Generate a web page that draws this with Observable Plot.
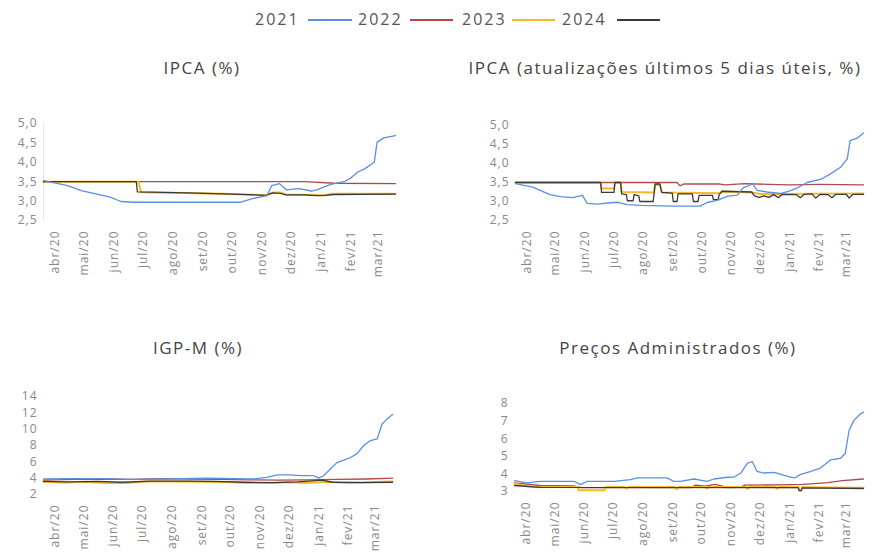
<!DOCTYPE html>
<html><head><meta charset="utf-8">
<script src="https://cdn.jsdelivr.net/npm/d3@7"></script>
<script src="https://cdn.jsdelivr.net/npm/@observablehq/plot@0.6"></script>
<style>
body{margin:0;background:#fff;font-family:"Open Sans",sans-serif;}
#root{position:relative;width:877px;height:556px;overflow:hidden;background:#fff;}
.lg-t{position:absolute;top:8px;font-size:16px;letter-spacing:2px;color:#555;line-height:22px;}
.lg-l{position:absolute;top:19px;height:0;border-top:2px solid;}
.title{position:absolute;text-align:center;font-size:17px;letter-spacing:1.5px;color:#444;line-height:24px;white-space:nowrap;}
.panel{position:absolute;}
</style></head>
<body><div id="root"></div>
<script>
// ---- series / legend ----
const seriesNames = ["2021","2022","2023","2024"];
const seriesColors = ["#5b8fe3","#b04a4a","#f6b927","#3a3a3a"];
// ---- x ticks ----
const tickDates = ["2020-04-01","2020-05-01","2020-06-01","2020-07-01","2020-08-01","2020-09-01","2020-10-01","2020-11-01","2020-12-01","2021-01-01","2021-02-01","2021-03-01"];
const tickLabels = ["abr/20","mai/20","jun/20","jul/20","ago/20","set/20","out/20","nov/20","dez/20","jan/21","fev/21","mar/21"];
const xDomain = ["2020-03-20","2021-03-19"];
// ---- panel titles ----
const titles = ["IPCA (%)","IPCA (atualizações últimos 5 dias úteis, %)","IGP-M (%)","Preços Administrados (%)"];
// ---- y ticks ----
const yTicksIpca = [2.5,3.0,3.5,4.0,4.5,5.0];
const yTicksIgpm = [2,4,6,8,10,12,14];
const yTicksAdm = [3,4,5,6,7,8];

// ---- IPCA (%) ----
const ipca2021 = [["2020-03-20",3.53],["2020-04-14",3.40],["2020-04-28",3.27],["2020-05-12",3.19],["2020-05-28",3.10],["2020-06-08",2.99],["2020-06-20",2.97],["2020-10-09",2.97],["2020-10-23",3.07],["2020-11-06",3.14],["2020-11-11",3.40],["2020-11-19",3.45],["2020-11-26",3.29],["2020-12-09",3.32],["2020-12-22",3.26],["2020-12-29",3.30],["2021-01-11",3.43],["2021-01-26",3.51],["2021-02-01",3.60],["2021-02-08",3.75],["2021-02-15",3.83],["2021-02-25",4.00],["2021-02-28",4.52],["2021-03-07",4.63],["2021-03-19",4.69]];
const ipca2022 = [["2020-03-20",3.50],["2020-12-15",3.50],["2021-01-15",3.46],["2021-03-19",3.45]];
const ipca2023 = [["2020-03-20",3.50],["2020-06-26",3.50],["2020-06-29",3.23],["2020-08-15",3.21],["2020-10-01",3.18],["2020-11-05",3.15],["2020-11-12",3.22],["2020-11-20",3.22],["2020-11-25",3.17],["2020-12-20",3.16],["2021-01-05",3.15],["2021-01-12",3.19],["2021-03-19",3.19]];
const ipca2024 = [["2020-03-20",3.50],["2020-06-24",3.50],["2020-06-25",3.24],["2020-08-15",3.21],["2020-10-01",3.18],["2020-11-05",3.15],["2020-11-12",3.21],["2020-11-20",3.20],["2020-11-26",3.16],["2020-12-15",3.16],["2020-12-28",3.14],["2021-01-05",3.15],["2021-01-14",3.17],["2021-03-19",3.18]];

// ---- IPCA (últimos 5 dias úteis, %) ----
const ipca5d2021 = [["2020-03-20",3.47],["2020-04-07",3.38],["2020-04-25",3.18],["2020-05-06",3.13],["2020-05-19",3.10],["2020-05-29",3.16],["2020-06-03",2.95],["2020-06-14",2.93],["2020-06-24",2.96],["2020-07-05",2.98],["2020-07-15",2.92],["2020-07-29",2.90],["2020-09-01",2.88],["2020-09-29",2.88],["2020-10-07",2.98],["2020-10-17",3.03],["2020-10-28",3.14],["2020-11-07",3.17],["2020-11-13",3.36],["2020-11-23",3.46],["2020-11-28",3.29],["2020-12-08",3.25],["2020-12-22",3.21],["2021-01-01",3.28],["2021-01-09",3.36],["2021-01-19",3.50],["2021-02-02",3.58],["2021-02-12",3.72],["2021-02-23",3.90],["2021-03-02",4.12],["2021-03-05",4.60],["2021-03-12",4.66],["2021-03-19",4.80]];
const ipca5d2022 = [["2020-03-20",3.50],["2020-09-05",3.50],["2020-09-08",3.41],["2020-09-12",3.46],["2020-10-20",3.46],["2020-10-25",3.44],["2020-11-15",3.47],["2020-12-10",3.45],["2021-01-01",3.44],["2021-02-01",3.45],["2021-03-19",3.44]];
const ipca5d2023 = [["2020-03-20",3.50],["2020-06-17",3.50],["2020-06-18",3.34],["2020-07-01",3.34],["2020-07-02",3.50],["2020-07-08",3.50],["2020-07-09",3.25],["2020-08-12",3.24],["2020-08-13",3.44],["2020-08-18",3.44],["2020-08-20",3.24],["2020-10-20",3.22],["2020-10-22",3.26],["2020-11-22",3.24],["2020-12-01",3.20],["2021-03-19",3.21]];
const ipca5d2024 = [["2020-03-20",3.50],["2020-06-17",3.50],["2020-06-18",3.24],["2020-07-01",3.24],["2020-07-02",3.50],["2020-07-08",3.50],["2020-07-09",3.20],["2020-07-14",3.18],["2020-07-15",3.02],["2020-07-21",3.02],["2020-07-22",3.18],["2020-07-27",3.15],["2020-07-28",3.00],["2020-08-11",3.00],["2020-08-12",3.22],["2020-08-13",3.46],["2020-08-18",3.46],["2020-08-20",3.24],["2020-08-31",3.22],["2020-09-01",3.00],["2020-09-05",3.00],["2020-09-06",3.20],["2020-09-21",3.20],["2020-09-22",3.00],["2020-09-27",3.00],["2020-09-28",3.16],["2020-10-12",3.16],["2020-10-13",3.05],["2020-10-18",3.05],["2020-10-19",3.18],["2020-10-22",3.27],["2020-11-22",3.25],["2020-11-25",3.15],["2020-11-30",3.11],["2020-12-05",3.15],["2020-12-10",3.11],["2020-12-15",3.18],["2020-12-20",3.10],["2020-12-24",3.19],["2021-01-08",3.18],["2021-01-12",3.10],["2021-01-16",3.19],["2021-01-24",3.20],["2021-01-28",3.09],["2021-02-02",3.19],["2021-02-10",3.18],["2021-02-14",3.10],["2021-02-18",3.19],["2021-03-01",3.19],["2021-03-04",3.09],["2021-03-08",3.19],["2021-03-19",3.19]];

// ---- IGP-M (%) ----
const igpm2021 = [["2020-03-20",3.90],["2020-04-20",3.95],["2020-05-18",3.95],["2020-06-20",3.85],["2020-07-27",3.90],["2020-09-07",4.00],["2020-10-04",3.95],["2020-10-25",3.90],["2020-11-08",4.10],["2020-11-19",4.40],["2020-12-02",4.40],["2020-12-13",4.30],["2020-12-27",4.30],["2021-01-01",4.00],["2021-01-06",4.30],["2021-01-13",5.10],["2021-01-20",5.90],["2021-01-27",6.20],["2021-02-03",6.50],["2021-02-10",7.00],["2021-02-17",8.00],["2021-02-24",8.60],["2021-03-03",8.80],["2021-03-08",10.60],["2021-03-13",11.20],["2021-03-19",11.80]];
const igpm2022 = [["2020-03-20",3.75],["2020-04-20",3.85],["2020-05-20",3.90],["2020-06-20",3.85],["2020-07-20",3.95],["2020-08-20",3.90],["2020-09-20",3.85],["2020-10-20",3.80],["2020-11-20",3.75],["2020-12-20",3.80],["2021-01-20",3.85],["2021-02-20",3.90],["2021-03-19",4.00]];
const igpm2023 = [["2020-03-20",3.55],["2020-04-10",3.45],["2020-05-01",3.55],["2020-05-25",3.40],["2020-06-15",3.40],["2020-07-05",3.60],["2020-08-01",3.60],["2020-09-01",3.55],["2020-10-01",3.50],["2020-10-20",3.40],["2020-11-10",3.40],["2020-12-01",3.50],["2020-12-20",3.40],["2021-01-10",3.55],["2021-02-01",3.45],["2021-03-19",3.60]];
const igpm2024 = [["2020-03-20",3.60],["2020-04-15",3.55],["2020-05-15",3.60],["2020-06-10",3.50],["2020-07-10",3.65],["2020-08-15",3.65],["2020-09-15",3.60],["2020-10-15",3.50],["2020-11-15",3.45],["2020-12-10",3.55],["2021-01-05",3.75],["2021-01-15",3.50],["2021-02-15",3.45],["2021-03-19",3.50]];

// ---- Preços Administrados (%) ----
const adm2021 = [["2020-03-20",3.62],["2020-04-02",3.49],["2020-04-16",3.58],["2020-05-21",3.58],["2020-05-28",3.39],["2020-06-04",3.58],["2020-07-02",3.58],["2020-07-19",3.67],["2020-07-26",3.77],["2020-08-26",3.77],["2020-09-02",3.58],["2020-09-09",3.58],["2020-09-23",3.71],["2020-10-07",3.58],["2020-10-14",3.71],["2020-10-28",3.81],["2020-11-04",3.82],["2020-11-11",4.05],["2020-11-18",4.61],["2020-11-23",4.70],["2020-11-28",4.14],["2020-12-05",4.05],["2020-12-16",4.09],["2020-12-30",3.86],["2021-01-06",3.77],["2021-01-12",3.96],["2021-01-23",4.14],["2021-02-02",4.33],["2021-02-13",4.80],["2021-02-23",4.89],["2021-02-28",5.17],["2021-03-04",6.48],["2021-03-09",7.04],["2021-03-16",7.42],["2021-03-19",7.51]];
const adm2022 = [["2020-03-20",3.49],["2020-04-16",3.34],["2020-05-21",3.32],["2020-05-28",3.22],["2020-09-20",3.22],["2020-09-25",3.36],["2020-10-05",3.30],["2020-10-15",3.40],["2020-10-22",3.32],["2020-10-28",3.22],["2020-11-11",3.24],["2020-11-15",3.36],["2020-12-20",3.38],["2021-01-15",3.40],["2021-02-10",3.50],["2021-02-25",3.62],["2021-03-19",3.71]];
const adm2023 = [["2020-03-20",3.45],["2020-04-02",3.30],["2020-04-16",3.26],["2020-05-25",3.26],["2020-05-26",3.07],["2020-06-22",3.07],["2020-06-23",3.26],["2020-07-13",3.25],["2020-07-15",3.15],["2020-07-17",3.25],["2020-09-03",3.25],["2020-09-05",3.12],["2020-09-07",3.25],["2020-10-05",3.25],["2020-10-07",3.17],["2020-10-09",3.25],["2020-11-16",3.25],["2020-11-18",3.15],["2020-11-20",3.25],["2020-12-17",3.25],["2020-12-19",3.15],["2020-12-21",3.25],["2021-01-10",3.24],["2021-01-11",3.05],["2021-01-13",3.05],["2021-01-14",3.24],["2021-03-19",3.22]];
const adm2024 = [["2020-03-20",3.34],["2020-04-16",3.24],["2021-01-10",3.22],["2021-01-11",3.05],["2021-01-13",3.05],["2021-01-14",3.21],["2021-03-19",3.17]];

const parse = s => new Date(s + "T00:00:00Z");
const rows = arr => arr.map(([d, v]) => ({date: parse(d), value: v}));

const root = document.getElementById("root");

// legend (label followed by line sample)
const legendTextX = [255, 358, 462, 562];
const legendLineX = [[308, 352], [410, 453], [512, 555], [617, 660]];
seriesNames.forEach((n, i) => {
  const t = document.createElement("div");
  t.className = "lg-t"; t.style.left = legendTextX[i] + "px"; t.textContent = n;
  root.appendChild(t);
  const l = document.createElement("div");
  l.className = "lg-l";
  l.style.left = legendLineX[i][0] + "px";
  l.style.width = (legendLineX[i][1] - legendLineX[i][0]) + "px";
  l.style.borderColor = seriesColors[i];
  root.appendChild(l);
});

function addTitle(text, cx, cy) {
  const d = document.createElement("div");
  d.className = "title"; d.textContent = text;
  d.style.left = (cx - 250) + "px"; d.style.width = "500px";
  d.style.top = (cy - 12) + "px";
  root.appendChild(d);
}

const comma = (d, digits) => d.toFixed(digits).replace(".", ",");

function panel({left, top, width, height, mTop, mBottom, mLeft, mRight, yDomain, yTicks, digits, data, axisLine}) {
  const order = [1, 2, 3, 0]; // draw 2022, 2023, 2024, then 2021 on top
  const marks = [];
  if (axisLine) marks.push(Plot.ruleX([parse(xDomain[0])], {y1: yDomain[0], y2: yDomain[1], stroke: "#e6e6e6", strokeWidth: 1}));
  order.forEach(i => {
    marks.push(Plot.line(rows(data[i]), {x: "date", y: "value", stroke: seriesColors[i], strokeWidth: i === 2 ? 2 : 1.3}));
  });
  marks.push(Plot.axisY({ticks: yTicks, tickFormat: d => comma(d, digits), tickSize: 0, tickPadding: 6, fill: "#888", label: null}));
  marks.push(Plot.axisX({ticks: tickDates.map(parse), tickFormat: d => tickLabels[tickDates.map(s => parse(s).getTime()).indexOf(d.getTime())], tickSize: 0, tickPadding: 10, tickRotate: -90, fill: "#888", label: null}));
  const chart = Plot.plot({
    width, height, marginTop: mTop, marginBottom: mBottom, marginLeft: mLeft, marginRight: mRight,
    x: {type: "utc", domain: xDomain.map(parse)},
    y: {domain: yDomain},
    style: {fontFamily: "'Open Sans', sans-serif", fontSize: "12px", letterSpacing: "1px", background: "transparent", overflow: "visible"},
    marks
  });
  chart.classList.add("panel");
  chart.style.left = left + "px"; chart.style.top = top + "px";
  root.appendChild(chart);
}

addTitle(titles[0], 202, 68);
addTitle(titles[1], 665, 68);
addTitle(titles[2], 198, 348);
addTitle(titles[3], 678, 348);

panel({left: 0, top: 110, width: 430, height: 190, mTop: 13, mBottom: 80, mLeft: 43, mRight: 35,
  yDomain: [2.5, 5], yTicks: yTicksIpca, digits: 1, data: [ipca2021, ipca2022, ipca2023, ipca2024], axisLine: true});
panel({left: 440, top: 110, width: 437, height: 190, mTop: 15, mBottom: 80, mLeft: 75, mRight: 14,
  yDomain: [2.5, 5], yTicks: yTicksIpca, digits: 1, data: [ipca5d2021, ipca5d2022, ipca5d2023, ipca5d2024]});
panel({left: 0, top: 380, width: 430, height: 176, mTop: 16, mBottom: 62, mLeft: 43, mRight: 38,
  yDomain: [2, 14], yTicks: yTicksIgpm, digits: 0, data: [igpm2021, igpm2022, igpm2023, igpm2024]});
panel({left: 440, top: 380, width: 437, height: 176, mTop: 23, mBottom: 65, mLeft: 74, mRight: 14,
  yDomain: [3, 8], yTicks: yTicksAdm, digits: 0, data: [adm2021, adm2022, adm2023, adm2024]});
</script>
</body></html>
